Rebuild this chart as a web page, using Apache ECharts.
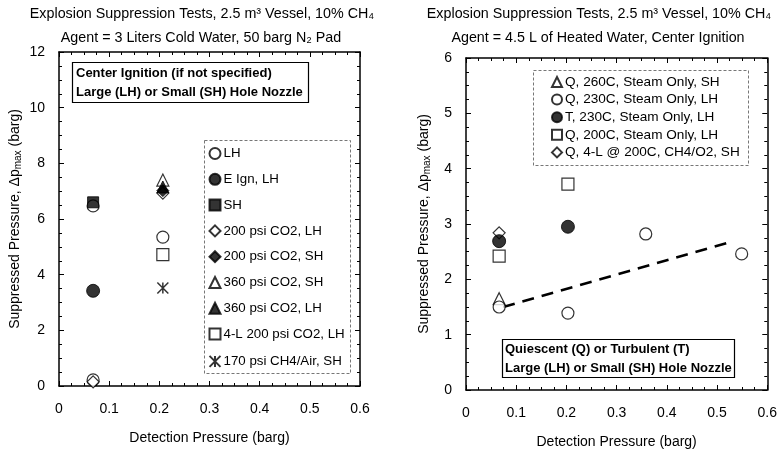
<!DOCTYPE html>
<html><head><meta charset="utf-8">
<script src="https://cdn.jsdelivr.net/npm/echarts@6/dist/echarts.min.js"></script>
<style>html,body{margin:0;padding:0;background:#fff}#c{width:780px;height:454px}</style>
</head><body><div id="c"></div>
<script>
// ---------- DATA ----------
const xTicks = [0, 0.1, 0.2, 0.3, 0.4, 0.5, 0.6];
const leftYTicks = [0, 2, 4, 6, 8, 10, 12];
const rightYTicks = [0, 1, 2, 3, 4, 5, 6];

// Left chart series: [detection pressure, suppressed pressure]
const L_LH        = [[0.068, 6.47], [0.068, 0.22], [0.207, 5.35]];
const L_EIgnLH    = [[0.068, 3.42]];
const L_SH        = [[0.068, 6.6]];
const L_200CO2_LH = [[0.068, 0.15], [0.207, 6.93]];
const L_200CO2_SH = [[0.207, 7.02]];
const L_360CO2_SH = [[0.207, 7.4]];
const L_360CO2_LH = [[0.207, 7.15]];
const L_4L200CO2  = [[0.207, 4.72]];
const L_170CH4    = [[0.207, 3.52]];

// Right chart series
const R_Q260  = [[0.066, 1.65]];
const R_Q230  = [[0.066, 1.5], [0.203, 1.39], [0.358, 2.82], [0.549, 2.46]];
const R_T230  = [[0.066, 2.69], [0.203, 2.95]];
const R_Q200  = [[0.066, 2.42], [0.203, 3.72]];
const R_Q4L   = [[0.066, 2.84]];
const R_trend = [[0.074, 1.5], [0.533, 2.69]];

// ---------- CHART ----------
const chart = echarts.init(document.getElementById('c'));
const FONT = 'Liberation Sans, Arial, sans-serif';
const asterisk = 'path://M0,0L10,10M10,0L0,10M5,0L5,10';

function xAx(gi, pos, labels) {
  return {
    type: 'value', gridIndex: gi, position: pos, min: 0, max: 0.6, interval: 0.1,
    axisLine: { show: true, onZero: false, lineStyle: { color: '#000', width: 1.5 } },
    axisTick: { show: true, inside: true, length: 5, lineStyle: { color: '#000' } },
    minorTick: { show: true, splitNumber: 4, length: 3, lineStyle: { color: '#000' } },
    splitLine: { show: false },
    axisLabel: { show: labels, color: '#000', fontSize: 14, fontFamily: FONT, margin: 16,
      formatter: v => String(xTicks.find(t => Math.abs(t - v) < 1e-9) ?? v) },
    name: labels ? 'Detection Pressure (barg)' : '', nameLocation: 'middle', nameGap: 45,
    nameTextStyle: { color: '#000', fontSize: 14, fontFamily: FONT }
  };
}
function yAx(gi, pos, labels, max, interval, ticks, gap) {
  return {
    type: 'value', gridIndex: gi, position: pos, min: 0, max: max, interval: interval,
    axisLine: { show: true, onZero: false, lineStyle: { color: '#000', width: 1.5 } },
    axisTick: { show: true, inside: true, length: 5, lineStyle: { color: '#000' } },
    minorTick: { show: true, splitNumber: 4, length: 3, lineStyle: { color: '#000' } },
    splitLine: { show: false },
    axisLabel: { show: labels, color: '#000', fontSize: 14, fontFamily: FONT, margin: 14,
      formatter: v => String(ticks.find(t => Math.abs(t - v) < 1e-9) ?? v) },
    name: labels ? 'Suppressed Pressure, Δp{s|max} (barg)' : '', nameLocation: 'middle', nameGap: gap,
    nameTextStyle: { color: '#000', fontSize: 14, fontFamily: FONT,
      rich: { s: { fontSize: 10, fontFamily: FONT, color: '#000', verticalAlign: 'bottom', padding: [6, 0, 0, 0] } } }
  };
}

const openStyle = { color: '#fff', borderColor: '#000', borderWidth: 1.2 };
const fillStyle = { color: '#000', borderColor: '#000', borderWidth: 1 };
function sc(name, data, symbol, size, style, xi, yi, z) {
  return { type: 'scatter', name, data, symbol, symbolSize: size, itemStyle: style,
    xAxisIndex: xi, yAxisIndex: yi, z: z || 2, emphasis: { disabled: true } };
}

const leftSeries = [
  sc('LH', L_LH, 'circle', 12, openStyle, 0, 0, 2),
  sc('E Ign, LH', L_EIgnLH, 'circle', 13, fillStyle, 0, 0, 3),
  sc('SH', L_SH, 'rect', 11, fillStyle, 0, 0, 4),
  sc('200 psi CO2, LH', L_200CO2_LH, 'diamond', 12, openStyle, 0, 0, 3),
  sc('200 psi CO2, SH', L_200CO2_SH, 'diamond', 12, fillStyle, 0, 0, 3),
  sc('360 psi CO2, SH', L_360CO2_SH, 'triangle', 12, openStyle, 0, 0, 2),
  sc('360 psi CO2, LH', L_360CO2_LH, 'triangle', 12, fillStyle, 0, 0, 4),
  sc('4-L 200 psi CO2, LH', L_4L200CO2, 'rect', 12, openStyle, 0, 0, 2),
  sc('170 psi CH4/Air, SH', L_170CH4, asterisk, 11, { color: 'none', borderColor: '#000', borderWidth: 1.5 }, 0, 0, 2)
];
const rightSeries = [
  { type: 'line', name: 'trend', data: R_trend, xAxisIndex: 2, yAxisIndex: 2, symbol: 'none',
    lineStyle: { color: '#000', width: 2.5, type: [12, 8] }, z: 1, silent: true },
  sc('Q, 260C, Steam Only, SH', R_Q260, 'triangle', 12, openStyle, 2, 2, 2),
  sc('Q, 230C, Steam Only, LH', R_Q230, 'circle', 12, openStyle, 2, 2, 3),
  sc('T, 230C, Steam Only, LH', R_T230, 'circle', 13, fillStyle, 2, 2, 3),
  sc('Q, 200C, Steam Only, LH', R_Q200, 'rect', 12, openStyle, 2, 2, 2),
  sc('Q, 4-L @ 200C, CH4/O2, SH', R_Q4L, 'diamond', 12, openStyle, 2, 2, 2)
];

const titleTs = { color: '#000', fontSize: 14.3, fontWeight: 'normal', fontFamily: FONT };
const boxTs = { color: '#000', fontSize: 13, fontWeight: 'bold', fontFamily: FONT, lineHeight: 19 };

chart.setOption({
  animation: false,
  backgroundColor: '#fff',
  textStyle: { fontFamily: FONT },
  title: [
    { text: 'Explosion Suppression Tests, 2.5 m³ Vessel, 10% CH₄', left: 197, top: 2, textAlign: 'center', textStyle: titleTs },
    { text: 'Agent = 3 Liters Cold Water, 50 barg N₂ Pad', left: 196, top: 26, textAlign: 'center', textStyle: titleTs },
    { text: 'Explosion Suppression Tests, 2.5 m³ Vessel, 10% CH₄', left: 594, top: 2, textAlign: 'center', textStyle: titleTs },
    { text: 'Agent = 4.5 L of Heated Water, Center Ignition', left: 593, top: 26, textAlign: 'center', textStyle: titleTs },
    { text: 'Center Ignition (if not specified)\nLarge (LH) or Small (SH) Hole Nozzle', left: 72, top: 62,
      borderColor: '#000', borderWidth: 1.2, padding: [2, 6, 1, 4], backgroundColor: '#fff', textStyle: boxTs },
    { text: 'Quiescent (Q) or Turbulent (T)\nLarge (LH) or Small (SH) Hole Nozzle', left: 502, top: 339,
      borderColor: '#000', borderWidth: 1.2, padding: [1, 3, 0, 3], backgroundColor: '#fff', textStyle: boxTs }
  ],
  grid: [
    { left: 59, top: 52, width: 301, height: 334, show: false },
    { left: 466, top: 58, width: 302, height: 332, show: false }
  ],
  xAxis: [xAx(0, 'bottom', true), xAx(0, 'top', false), xAx(1, 'bottom', true), xAx(1, 'top', false)],
  yAxis: [
    yAx(0, 'left', true, 12, 2, leftYTicks, 36), yAx(0, 'right', false, 12, 2, leftYTicks, 0),
    yAx(1, 'left', true, 6, 1, rightYTicks, 34), yAx(1, 'right', false, 6, 1, rightYTicks, 0)
  ],
  legend: [
    { data: leftSeries.map(s => s.name), orient: 'vertical', left: 203, top: 140, padding: [7, 4],
      itemWidth: 11, itemHeight: 11, itemGap: 12.8, selectedMode: false,
      textStyle: { color: '#000', fontSize: 13.3, fontFamily: FONT, padding: [0, 0, 0, -2] } },
    { data: rightSeries.slice(1).map(s => s.name), orient: 'vertical', left: 547, top: 71, padding: [4, 4],
      itemWidth: 10, itemHeight: 10, itemGap: 3.6, selectedMode: false,
      textStyle: { color: '#000', fontSize: 13.6, fontFamily: FONT, padding: [0, 0, 0, -2] } }
  ],
  graphic: [
    { type: 'rect', shape: { x: 204.5, y: 140.5, width: 146, height: 233 },
      style: { fill: 'none', stroke: '#777', lineWidth: 1, lineDash: [3, 2] }, z: 0, silent: true },
    { type: 'rect', shape: { x: 533.5, y: 70.5, width: 215, height: 95 },
      style: { fill: 'none', stroke: '#777', lineWidth: 1, lineDash: [3, 2] }, z: 0, silent: true }
  ],
  series: leftSeries.concat(rightSeries)
});
</script></body></html>
